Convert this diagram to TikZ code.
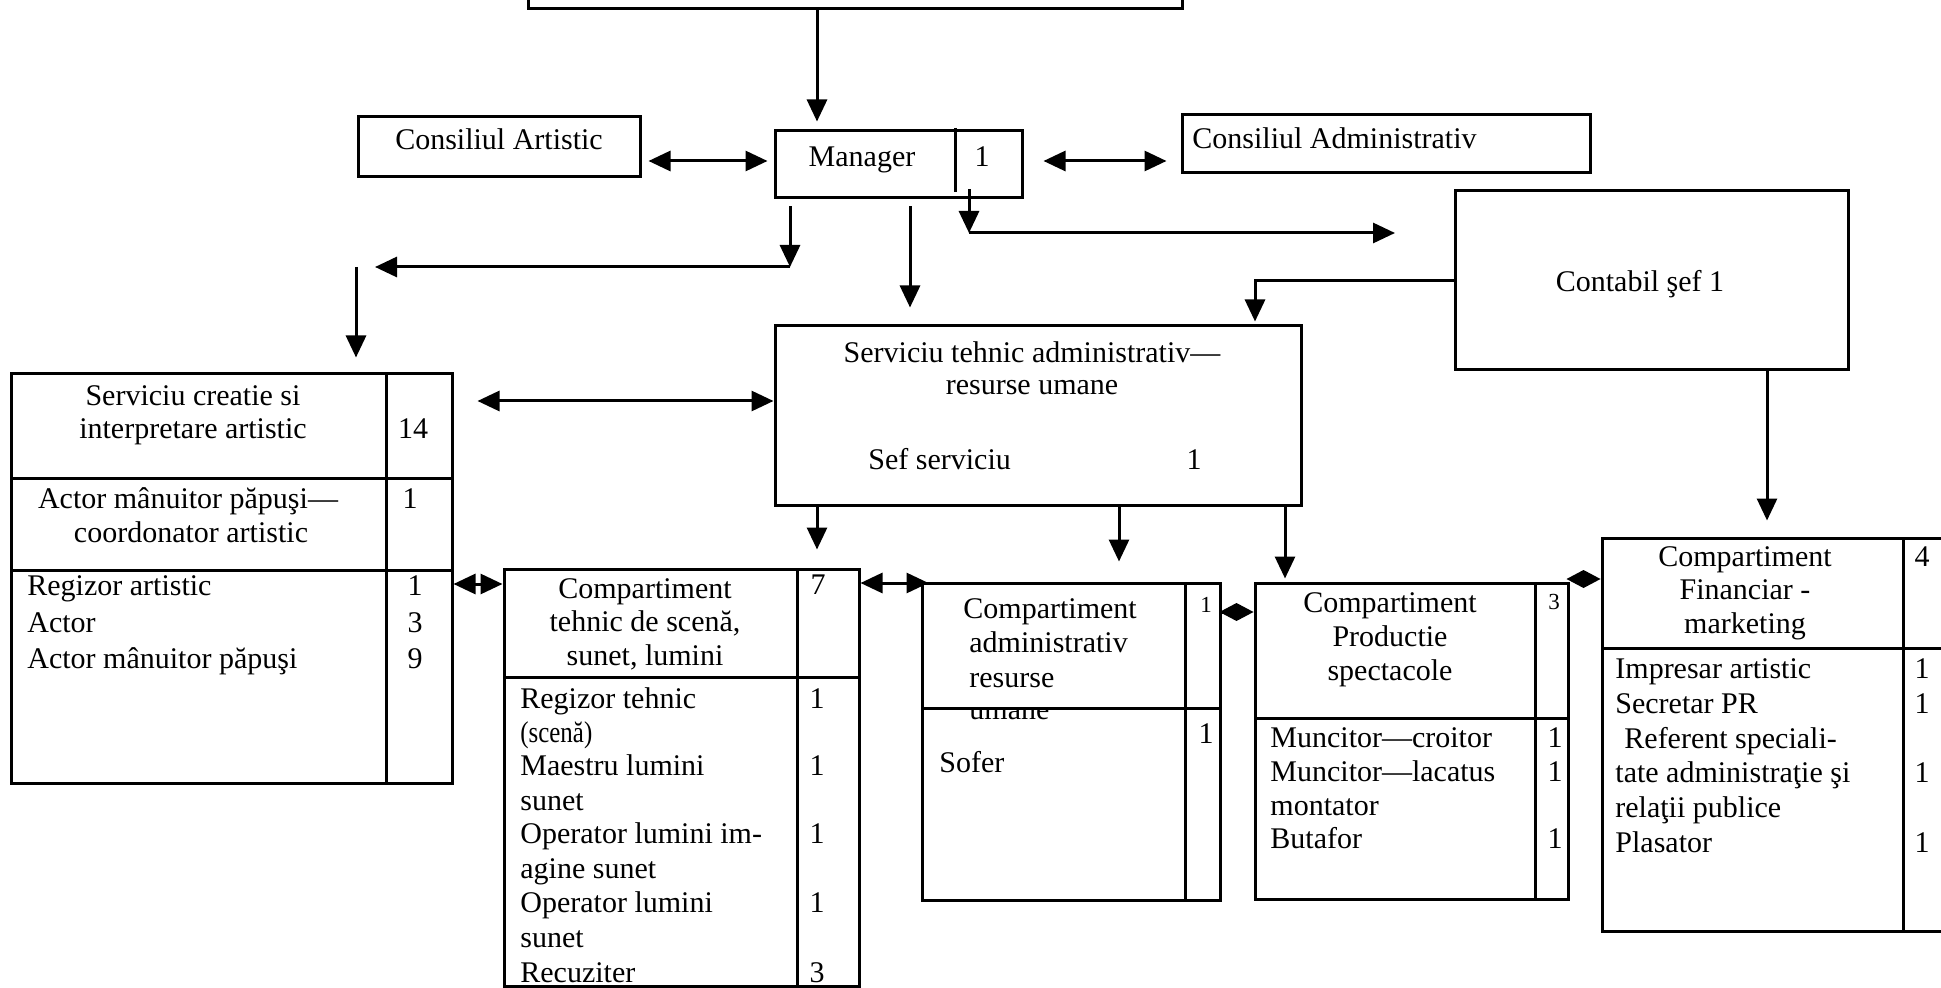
\documentclass[tikz,border=0pt]{standalone}
\usepackage{fontspec}
\setmainfont{Liberation Serif}
\usepackage{graphicx}
\usetikzlibrary{arrows.meta,fit,calc}
\tikzset{
  box/.style={draw, line width=1.5pt, inner sep=0pt},
  dv/.style={line width=1.5pt},
  txt/.style={inner sep=0pt, font=\fontsize{15}{17}\selectfont},
  sml/.style={inner sep=0pt, font=\fontsize{11.5}{13}\selectfont},
  tip/.tip={Triangle[length=11pt,width=10pt]},
  arr/.style={line width=1.5pt, -tip},
  darr/.style={line width=1.5pt, tip-tip},
  dia/.style={line width=1.5pt, -{Diamond[length=17pt,width=9pt]}},
}
\newcommand\putL[4]{\node[txt,anchor=base west] (#1) at (#2,{#3+10}) {#4};}
\newcommand\putC[4]{\node[txt,anchor=base] (#1) at (#2,{#3+10}) {#4};}
\newcommand\putS[4]{\node[sml,anchor=base] (#1) at (#2,{#3+8}) {#4};}
\begin{document}
\begin{tikzpicture}[x=0.5pt,y=-0.5pt]
\useasboundingbox (0,0) rectangle (1941,988);
% boxes
\node[box, fit={(528,-20) (1182,9)}] (tbox) {};
\node[box, fit={(358,117) (640,177)}] (ca) {};
\node[box, fit={(775,131) (1022,198)}] (mgr) {};
\node[box, fit={(1182,115) (1590,173)}] (cadm) {};
\node[box, fit={(1455,191) (1848,370)}] (ctb) {};
\node[box, fit={(775,326) (1301,505)}] (svt) {};
\node[box, fit={(11,374) (452,783)}] (sca) {};
\node[box, fit={(504,569) (859,986)}] (tech) {};
\node[box, fit={(922,583) (1220,900)}] (adm) {};
\node[box, fit={(1255,583) (1568,899)}] (prod) {};
\node[box, fit={(1602,538) (1980,931)}] (fin) {};

% texts
\putC{catx}{499}{140}{Consiliul Artistic}
\putC{mgrtx}{862}{157}{Manager}
\putC{mgrn}{982}{157}{1}
\putL{cadmtx}{1192}{139}{Consiliul Administrativ}
\putC{ctbtx}{1640}{282}{Contabil şef 1}

\putC{svt1}{1032}{353}{Serviciu tehnic administrativ—}
\putC{svt2}{1032}{385}{resurse umane}
\putL{svt3}{868}{459}{Sef serviciu}
\putC{svt4}{1194}{459}{1}

\putC{sca1}{193}{396}{Serviciu creatie si}
\putC{sca2}{193}{428}{interpretare artistic}
\putC{scan1}{413}{428}{14}
\putC{sca3}{188}{499}{Actor mânuitor păpuşi—}
\putC{sca4}{191}{532}{coordonator artistic}
\putC{scan2}{410}{499}{1}
\putL{sca5}{27}{585}{Regizor artistic}
\putL{sca6}{27}{622}{Actor}
\putL{sca7}{27}{658}{Actor mânuitor păpuşi}
\putC{scan3}{415}{585}{1}
\putC{scan4}{415}{622}{3}
\putC{scan5}{415}{658}{9}

\putC{te1}{645}{588}{Compartiment}
\putC{te2}{645}{621}{tehnic de scenă,}
\putC{te3}{645}{655}{sunet, lumini}
\putC{ten1}{818}{584}{7}
\putL{te4}{520}{698}{Regizor tehnic}
\putL{te5}{520}{732}{\scalebox{0.83}[1]{(scenă)}}
\putL{te6}{520}{765}{Maestru lumini}
\putL{te7}{520}{800}{sunet}
\putL{te8}{520}{833}{Operator lumini im-}
\putL{te9}{520}{868}{agine sunet}
\putL{te10}{520}{902}{Operator lumini}
\putL{te11}{520}{937}{sunet}
\putL{te12}{520}{972}{Recuziter}
\putC{ten2}{817}{698}{1}
\putC{ten3}{817}{765}{1}
\putC{ten4}{817}{833}{1}
\putC{ten5}{817}{902}{1}
\putC{ten6}{817}{972}{3}

\putL{ad1}{963}{608}{Compartiment}
\putL{ad2}{969}{642}{administrativ}
\putL{ad3}{969}{677}{resurse}
\putL{ad4}{969}{709}{umane}
\putS{adn1}{1206}{604}{1}
\putC{adn2}{1206}{733}{1}
\putL{ad5}{939}{762}{Sofer}

\putC{pr1}{1390}{602}{Compartiment}
\putC{pr2}{1390}{636}{Productie}
\putC{pr3}{1390}{670}{spectacole}
\putS{prn1}{1554}{601}{3}
\putL{pr4}{1270}{737}{Muncitor—croitor}
\putL{pr5}{1270}{771}{Muncitor—lacatus}
\putL{pr6}{1270}{805}{montator}
\putL{pr7}{1270}{838}{Butafor}
\putC{prn2}{1555}{737}{1}
\putC{prn3}{1555}{771}{1}
\putC{prn4}{1555}{838}{1}

\putC{fi1}{1745}{556}{Compartiment}
\putC{fi2}{1745}{589}{Financiar -}
\putC{fi3}{1745}{623}{marketing}
\putC{fin1}{1922}{556}{4}
\putL{fi4}{1615}{668}{Impresar artistic}
\putL{fi5}{1615}{703}{Secretar PR}
\putL{fi6}{1624}{738}{Referent speciali-}
\putL{fi7}{1615}{772}{tate administraţie şi}
\putL{fi8}{1615}{807}{relaţii publice}
\putL{fi9}{1615}{842}{Plasator}
\putC{fin2}{1922}{668}{1}
\putC{fin3}{1922}{703}{1}
\putC{fin4}{1922}{772}{1}
\putC{fin5}{1922}{842}{1}

% partial cover of "umane"
\fill[white] (955,694) rectangle (1080,707);

% dividers
\draw[dv] (955,128) -- (955,192);
\draw[dv] (11,478) -- (452,478);
\draw[dv] (11,570) -- (452,570);
\draw[dv] (386,374) -- (386,783);
\draw[dv] (504,677) -- (859,677);
\draw[dv] (797,569) -- (797,986);
\draw[dv] (922,708) -- (1220,708);
\draw[dv] (1185,583) -- (1185,900);
\draw[dv] (1255,718) -- (1568,718);
\draw[dv] (1535,583) -- (1535,899);
\draw[dv] (1602,648) -- (1980,648);
\draw[dv] (1903,538) -- (1903,931);

% connectors
\coordinate (mc) at (969,233);
\coordinate (mr) at (1395,233);
\coordinate (ml) at (790,267);
\coordinate (mll) at (375,267);
\coordinate (sl) at (356,267);

\draw[arr, shorten >=4pt] (tbox.south -| 817,0) -- (mgr.north -| 817,0);
\draw[darr, shorten <=3.5pt, shorten >=3pt] (ca.east |- 0,161) -- (mgr.west |- 0,161);
\draw[darr, shorten <=10pt, shorten >=7pt] (mgr.east |- 0,161) -- (cadm.west |- 0,161);
\draw[arr] ($(mgr.south -| mc)+(0,-10)$) -- (mc);
\draw[arr] (mc) -- (mr);
\draw[arr] ($(mgr.south -| ml)+(0,7)$) -- (ml);
\draw[arr] (ml) -- (mll);
\draw[arr, shorten >=7.5pt] (sl) -- (sca.north -| sl);
\draw[arr, shorten >=8.5pt] ($(mgr.south -| 910,0)+(0,7)$) -- (svt.north -| 910,0);
\draw[arr, shorten >=1.5pt] (ctb.west) -| (svt.north -| 1255,0);
\draw[arr, shorten >=8pt] (ctb.south -| 1767,0) -- (fin.north -| 1767,0);
\draw[darr, shorten <=12pt] (sca.east |- 0,401) -- (svt.west |- 0,401);
\draw[arr, shorten >=9pt] (svt.south -| 817,0) -- (tech.north -| 817,0);
\draw[arr, shorten >=10pt] (svt.south -| 1119,0) -- (adm.north -| 1119,0);
\draw[arr, shorten >=1.5pt] (svt.south -| 1285,0) -- (prod.north -| 1285,0);
\draw[darr] (sca.east |- 0,584) -- (tech.west |- 0,584);
\draw[darr, shorten >=-4pt] (tech.east |- 0,583) -- (adm.west |- 0,583);
\draw[dia] (adm.east |- 0,612) -- (prod.west |- 0,612);
\draw[dia] (prod.east |- 0,579) -- (fin.west |- 0,579);
\end{tikzpicture}
\end{document}
